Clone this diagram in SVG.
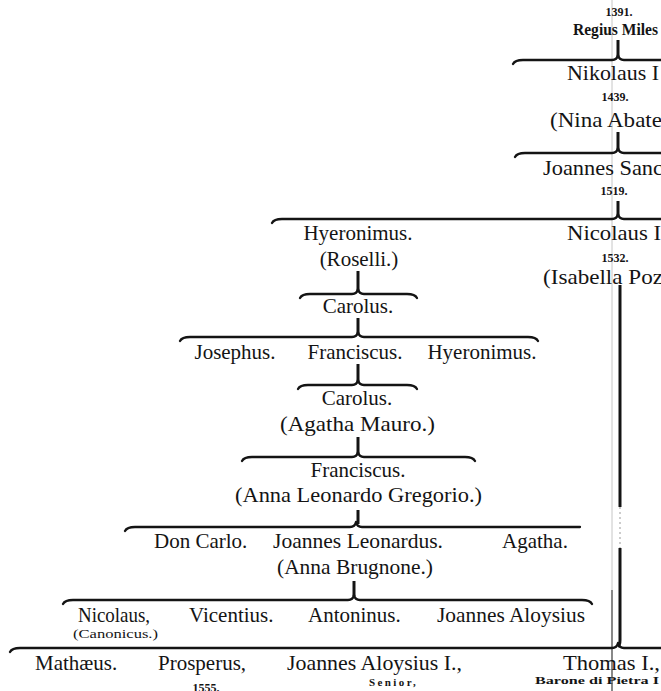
<svg xmlns="http://www.w3.org/2000/svg" width="661" height="691" viewBox="0 0 661 691">
<style>
.t{font-family:"Liberation Serif","Times New Roman",serif;fill:#141414}
.n{font-size:21px}
.b{font-size:22px}
.s{font-size:12px;font-weight:bold}
.m{font-size:16px;font-weight:bold}
.c{font-size:13px}
.sm{font-size:11px;font-weight:bold}
.sn{font-size:11px;font-weight:bold;letter-spacing:2.4px}
.mid{text-anchor:middle}
.br{fill:none;stroke:#141414;stroke-width:2.3;stroke-linecap:round;stroke-linejoin:round}
.v{stroke:#141414;stroke-width:3}
.fold{stroke:#b8b8b8;stroke-width:0.8}
</style>
<rect width="661" height="691" fill="#ffffff"/>

<g id="fold">
<line class="fold" x1="612" y1="0" x2="612" y2="590"/>
<line x1="612" y1="590" x2="612" y2="691" stroke="#3a3a3a" stroke-width="1.2"/>
</g>

<g id="connectors">
<line class="v" x1="618" y1="40" x2="618" y2="57"/>
<path class="br" d="M513,64 Q515,60 523,60 L612,60 Q617,60 618,55 Q619,60 624,60 L680,60"/>
<line class="v" x1="618" y1="132" x2="618" y2="150"/>
<path class="br" d="M515,157 Q517,153 525,153 L612,153 Q617,153 618,148 Q619,153 624,153 L680,153"/>
<line class="v" x1="618" y1="201" x2="618" y2="216"/>
<path class="br" d="M272,223 Q274,219 282,219 L612,219 Q617,219 618,214 Q619,219 624,219 L680,219"/>
<line class="v" x1="358" y1="271" x2="358" y2="291"/>
<path class="br" d="M300,298 Q302,294 310,294 L352,294 Q357,294 358,289 Q359,294 364,294 L407,294 Q415,294 417,298"/>
<line class="v" x1="358" y1="318" x2="358" y2="334"/>
<path class="br" d="M180,341 Q182,337 190,337 L352,337 Q357,337 358,332 Q359,337 364,337 L528,337 Q536,337 538,341"/>
<line class="v" x1="358" y1="364" x2="358" y2="382"/>
<path class="br" d="M298,389 Q300,385 308,385 L352,385 Q357,385 358,380 Q359,385 364,385 L407,385 Q415,385 417,389"/>
<line class="v" x1="358" y1="437" x2="358" y2="454"/>
<path class="br" d="M242,461 Q244,457 252,457 L352,457 Q357,457 358,452 Q359,457 364,457 L465,457 Q473,457 475,461"/>
<line class="v" x1="358" y1="510" x2="358" y2="524"/>
<path class="br" d="M125,531 Q127,527 135,527 L350,527 Q355,527 356,522 Q357,527 362,527 L580,527"/>
<line class="v" x1="354" y1="581" x2="354" y2="596"/>
<path class="br" d="M63,604 Q65,600 73,600 L348,600 Q353,600 354,595 Q355,600 360,600 L582,600 Q590,600 592,604"/>
<line class="v" x1="620" y1="285" x2="620" y2="507"/>
<line x1="620" y1="507" x2="620" y2="548" stroke="#9a9a9a" stroke-width="1" stroke-dasharray="2,3"/>
<path class="v" fill="none" d="M620,548 L620,640 Q620,646 618,646"/>
<path class="br" d="M10,652 Q12,648 20,648 L612,648 Q617,648 618,643 Q619,648 624,648 L680,648"/>
</g>

<g id="regius">
<text class="t s" x="619" y="16" text-anchor="middle">1391.</text>
<text class="t m" x="573" y="35" textLength="85" lengthAdjust="spacingAndGlyphs">Regius Miles</text>
</g>
<g id="nikolaus1">
<text class="t n" x="567" y="80" textLength="92" lengthAdjust="spacingAndGlyphs">Nikolaus I</text>
<text class="t s" x="615" y="101" text-anchor="middle">1439.</text>
<text class="t n" x="550" y="127" textLength="112" lengthAdjust="spacingAndGlyphs">(Nina Abate</text>
</g>
<g id="joannes-sanc">
<text class="t n" x="543" y="175" textLength="120" lengthAdjust="spacingAndGlyphs">Joannes Sanc</text>
<text class="t s" x="614" y="195" text-anchor="middle">1519.</text>
</g>
<g id="nicolaus2">
<text class="t n" x="567" y="240" textLength="94" lengthAdjust="spacingAndGlyphs">Nicolaus I</text>
<text class="t s" x="615" y="262" text-anchor="middle">1532.</text>
<text class="t n" x="543" y="284" textLength="120" lengthAdjust="spacingAndGlyphs">(Isabella Poz</text>
</g>
<g id="hyeronimus1">
<text class="t n mid" x="358" y="240">Hyeronimus.</text>
<text class="t n mid" x="359" y="266">(Roselli.)</text>
</g>
<g id="carolus1">
<text class="t n mid" x="358" y="313">Carolus.</text>
</g>
<g id="josephus">
<text class="t n mid" x="235" y="359">Josephus.</text>
</g>
<g id="franciscus1">
<text class="t n mid" x="355" y="359">Franciscus.</text>
</g>
<g id="hyeronimus2">
<text class="t n mid" x="482" y="359">Hyeronimus.</text>
</g>
<g id="carolus2">
<text class="t n mid" x="357" y="405">Carolus.</text>
<text class="t n" x="280" y="431" textLength="155" lengthAdjust="spacingAndGlyphs">(Agatha  Mauro.)</text>
</g>
<g id="franciscus2">
<text class="t n mid" x="358" y="477">Franciscus.</text>
<text class="t n" x="235" y="502" textLength="247" lengthAdjust="spacingAndGlyphs">(Anna Leonardo Gregorio.)</text>
</g>
<g id="don-carlo">
<text class="t n" x="154" y="548">Don Carlo.</text>
</g>
<g id="joannes-leonardus">
<text class="t n" x="273" y="548" textLength="170" lengthAdjust="spacingAndGlyphs">Joannes Leonardus.</text>
<text class="t n" x="277" y="574" textLength="156" lengthAdjust="spacingAndGlyphs">(Anna  Brugnone.)</text>
</g>
<g id="agatha">
<text class="t n" x="502" y="548">Agatha.</text>
</g>
<g id="nicolaus-canonicus">
<text class="t n" x="78" y="622" textLength="72" lengthAdjust="spacingAndGlyphs">Nicolaus,</text>
<text class="t c" x="73" y="638" textLength="85" lengthAdjust="spacingAndGlyphs">(Canonicus.)</text>
</g>
<g id="vicentius">
<text class="t n" x="189" y="622">Vicentius.</text>
</g>
<g id="antoninus">
<text class="t n" x="308" y="622">Antoninus.</text>
</g>
<g id="joannes-aloysius">
<text class="t n" x="437" y="622" textLength="148" lengthAdjust="spacingAndGlyphs">Joannes Aloysius</text>
</g>
<g id="mathaeus">
<text class="t n" x="35" y="670">Mathæus.</text>
</g>
<g id="prosperus">
<text class="t n" x="158" y="670">Prosperus,</text>
<text class="t s" x="206" y="692" text-anchor="middle">1555.</text>
</g>
<g id="joannes-aloysius-1">
<text class="t n" x="287" y="670" textLength="175" lengthAdjust="spacingAndGlyphs">Joannes Aloysius I.,</text>
<text class="t sn" x="369" y="686">Senior,</text>
</g>
<g id="thomas1">
<text class="t b" x="563" y="670" textLength="97" lengthAdjust="spacingAndGlyphs">Thomas I.,</text>
<text class="t sm" x="535" y="684" textLength="124" lengthAdjust="spacingAndGlyphs">Barone di Pietra I</text>
</g>
</svg>
